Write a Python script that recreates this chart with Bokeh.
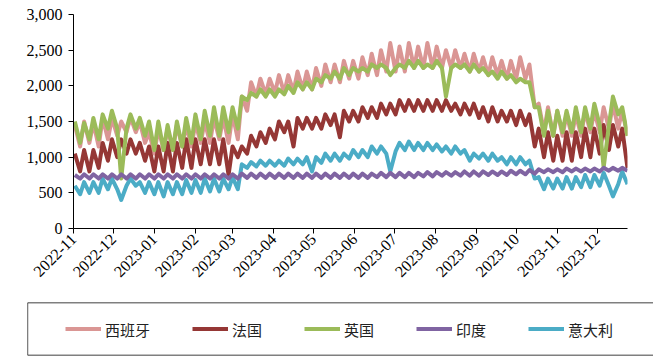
import datetime as dt
import math
from bokeh.plotting import figure
from bokeh.layouts import column
from bokeh.models import (FixedTicker, DatetimeTickFormatter, NumeralTickFormatter,
                          Legend, LegendItem, Range1d, Span)
from bokeh.embed import file_html
from bokeh.resources import INLINE

# ---- data: weekly weekday-peak (Wed) and weekend-trough (Sun) readings ----
week_start = dt.date(2022, 10, 31)

spain_peak = [1450, 1500, 1480, 1550, 1550, 1500, 1560, 1500, 1350,
              1400, 1400, 1450, 1450, 1480, 1500, 1550, 1550, 1600,
              1850, 2050, 2100, 2100, 2150, 2150, 2200, 2200,
              2250, 2300, 2300, 2350, 2350, 2400, 2450, 2500, 2600,
              2550, 2600, 2550, 2600, 2550, 2500, 2500, 2450, 2450,
              2400, 2400, 2350, 2350, 2400, 2300, 1750, 1700, 1650,
              1600, 1600, 1650, 1650, 1700, 1750, 1650]
spain_trough = [1150, 1200, 1150, 1250, 1300, 1350, 1350, 1200, 1050,
                1100, 1100, 1150, 1150, 1200, 1200, 1250, 1200, 1250,
                1650, 1850, 1880, 1900, 1900, 1920, 1950, 1950,
                2000, 2050, 2050, 2100, 2100, 2150, 2150, 2200, 2200,
                2200, 2250, 2250, 2250, 2250, 2250, 2250, 2200, 2200,
                2150, 2150, 2100, 2100, 2100, 1700, 1350, 1300, 1300,
                1300, 1300, 1350, 1350, 1400, 1400, 1300]

france_peak = [1050, 1100, 1100, 1200, 1250, 1250, 1250, 1200, 1150,
               1150, 1200, 1200, 1250, 1250, 1250, 1250, 1250, 1150,
               1150, 1300, 1350, 1400, 1500, 1500, 1550, 1550,
               1550, 1600, 1600, 1650, 1650, 1700, 1700, 1750, 1750,
               1800, 1800, 1800, 1800, 1800, 1800, 1750, 1750, 1750,
               1700, 1700, 1650, 1650, 1650, 1600, 1400, 1350, 1300,
               1350, 1350, 1400, 1400, 1450, 1450, 1400]
france_trough = [800, 800, 850, 950, 1000, 1050, 1050, 950, 800,
                 800, 800, 850, 850, 900, 900, 900, 750, 1000,
                 1050, 1150, 1200, 1250, 1350, 1150, 1400, 1400,
                 1400, 1450, 1280, 1500, 1500, 1550, 1550, 1600, 1600,
                 1650, 1650, 1650, 1650, 1650, 1650, 1600, 1600, 1550,
                 1500, 1500, 1500, 1450, 1450, 1150, 1000, 950, 950,
                 950, 1000, 1000, 1050, 1100, 1150, 850]

uk_peak = [1500, 1480, 1550, 1600, 1650, 700, 1600, 1550, 1500,
           1500, 1450, 1500, 1550, 1600, 1650, 1700, 1700, 1700,
           1850, 1900, 1950, 1950, 1950, 2000, 2050, 2050,
           2100, 2150, 2200, 2250, 2250, 2250, 2300, 2300, 2150,
           2300, 2350, 2350, 2300, 2350, 1850, 2300, 2300, 2300,
           2250, 2200, 2200, 2150, 2100, 2050, 1700, 1650, 1650,
           1650, 1700, 1700, 1750, 850, 1850, 1700]
uk_trough = [1200, 1250, 1250, 1400, 1400, 1400, 1400, 1300, 1100,
             1100, 1100, 1150, 1200, 1250, 1300, 1300, 1350, 1400,
             1800, 1850, 1850, 1850, 1880, 1900, 1950, 1950,
             2050, 2100, 2100, 2150, 2200, 2200, 2250, 2250, 2250,
             2250, 2250, 2250, 2250, 2250, 2250, 2250, 2200, 2200,
             2150, 2100, 2100, 2050, 2050, 1700, 1300, 1300, 1350,
             1350, 1350, 1400, 1450, 1450, 1600, 1300]

india_peak = [750, 760, 760, 760, 760, 760, 760, 760, 760,
              760, 760, 760, 760, 760, 760, 760, 760, 760,
              770, 770, 770, 770, 770, 770, 770, 770,
              770, 770, 770, 770, 770, 770, 770, 780, 780,
              780, 780, 780, 790, 790, 790, 790, 800, 800,
              800, 800, 800, 810, 810, 820, 830, 830, 830,
              840, 840, 840, 840, 850, 850, 850]
india_trough = [700, 700, 700, 700, 700, 700, 700, 700, 700,
                700, 700, 700, 700, 700, 700, 700, 700, 700,
                710, 710, 710, 710, 710, 710, 710, 710,
                710, 710, 710, 710, 710, 710, 720, 720, 720,
                720, 720, 730, 730, 740, 740, 740, 740, 740,
                750, 750, 750, 760, 760, 770, 790, 790, 790,
                800, 800, 800, 800, 810, 810, 810]

italy_peak = [600, 650, 650, 700, 700, 400, 700, 650, 650,
              650, 650, 650, 680, 680, 700, 700, 700, 720,
              900, 930, 950, 950, 950, 980, 980, 1000,
              1000, 1050, 1050, 1050, 1100, 1100, 1150, 1150, 800,
              1200, 1220, 1200, 1200, 1180, 1150, 1150, 1100, 1050,
              1050, 1050, 1000, 1000, 1000, 950, 720, 700, 700,
              720, 720, 750, 750, 780, 450, 800]
italy_trough = [480, 500, 500, 550, 550, 600, 600, 500, 480,
                450, 480, 480, 500, 500, 520, 520, 550, 550,
                850, 870, 880, 880, 880, 900, 900, 800,
                920, 950, 950, 980, 1000, 1000, 1050, 1050, 1080,
                1100, 1100, 1100, 1100, 1080, 1050, 1050, 950, 980,
                950, 950, 900, 900, 900, 700, 550, 560, 560,
                560, 580, 580, 600, 600, 620, 620]

month_ticks = ["2022-11", "2022-12", "2023-01", "2023-02", "2023-03", "2023-04",
               "2023-05", "2023-06", "2023-07", "2023-08", "2023-09", "2023-10",
               "2023-11", "2023-12"]

labels = ["西班牙", "法国", "英国", "印度", "意大利"]
colors = ["#DA9694", "#953735", "#9BBB59", "#8064A2", "#4BACC6"]


def to_dt(d):
    return dt.datetime(d.year, d.month, d.day)


def series(peaks, troughs):
    xs, ys = [], []
    for k, (pk, tr) in enumerate(zip(peaks, troughs)):
        d0 = week_start + dt.timedelta(days=7 * k)
        xs += [to_dt(d0 + dt.timedelta(days=2)), to_dt(d0 + dt.timedelta(days=6))]
        ys += [pk, tr]
    return xs, ys


epoch = dt.datetime(1970, 1, 1)
tick_ms = [(dt.datetime(int(m[:4]), int(m[5:]), 1) - epoch).total_seconds() * 1000
           for m in month_ticks]

W = 653
p = figure(width=W, height=298, x_axis_type="datetime",
           output_backend="svg", toolbar_location=None,
           x_range=Range1d(dt.datetime(2022, 11, 1), dt.datetime(2023, 12, 24)),
           y_range=Range1d(0, 3000),
           min_border_left=73, min_border_right=W - 627,
           min_border_top=14, min_border_bottom=70)
p.outline_line_color = None
p.xgrid.visible = False
p.ygrid.visible = False
p.frame_align = False

data = {
    "西班牙": (spain_peak, spain_trough),
    "法国": (france_peak, france_trough),
    "英国": (uk_peak, uk_trough),
    "印度": (india_peak, india_trough),
    "意大利": (italy_peak, italy_trough),
}
draw_order = ["西班牙", "法国", "英国", "意大利", "印度"]
for name in draw_order:
    xs, ys = series(*data[name])
    c = colors[labels.index(name)]
    p.line(xs, ys, line_color=c, line_width=4, line_join="round")

# axes
for ax in (p.xaxis[0], p.yaxis[0]):
    ax.axis_line_color = "black"
    ax.major_tick_line_color = "black"
    ax.minor_tick_line_color = None
    ax.major_tick_in = 0
    ax.major_tick_out = 5
    ax.major_label_text_font = "Liberation Serif"
    ax.major_label_text_font_size = "16px"
    ax.major_label_text_color = "black"

p.yaxis.ticker = FixedTicker(ticks=[0, 500, 1000, 1500, 2000, 2500, 3000])
p.yaxis.formatter = NumeralTickFormatter(format="0,0")
p.yaxis.major_label_standoff = 6

p.xaxis.ticker = FixedTicker(ticks=tick_ms)
p.xaxis.formatter = DatetimeTickFormatter(days="%Y-%m", months="%Y-%m", years="%Y-%m",
                                          hours="%Y-%m", minutes="%Y-%m")
p.xaxis.major_label_orientation = math.pi / 4
p.xaxis.major_label_standoff = 3

# ---- legend in its own strip below the chart; box edges drawn with spans ----
lf = figure(width=W, height=62, output_backend="svg", toolbar_location=None,
            x_axis_location=None, y_axis_location=None,
            x_range=Range1d(0, 1), y_range=Range1d(0, 1),
            min_border_left=27, min_border_right=0,
            min_border_top=4, min_border_bottom=5)
lf.outline_line_color = None
lf.xgrid.visible = False
lf.ygrid.visible = False
lf.frame_align = False

for loc, dim in ((0, "width"), (1, "width")):
    lf.add_layout(Span(location=loc, dimension=dim, line_color="black", line_width=1.3))
lf.add_layout(Span(location=0, dimension="height", line_color="black", line_width=1.3))

nan = float("nan")
items = []
for n, c in zip(labels, colors):
    r = lf.line([nan, nan], [nan, nan], line_color=c, line_width=4)
    items.append(LegendItem(label=n, renderers=[r]))

legend = Legend(
    items=items, orientation="horizontal", location="center_left",
    border_line_color=None, background_fill_alpha=0,
    padding=0, margin=38, spacing=42, glyph_width=36, glyph_height=20,
    label_standoff=4, label_text_font="Noto Sans CJK SC",
    label_text_font_size="15px", label_text_color="#222222",
)
lf.add_layout(legend)

layout = column(p, lf, spacing=0)
open("out.html", "w").write(file_html(layout, INLINE))
